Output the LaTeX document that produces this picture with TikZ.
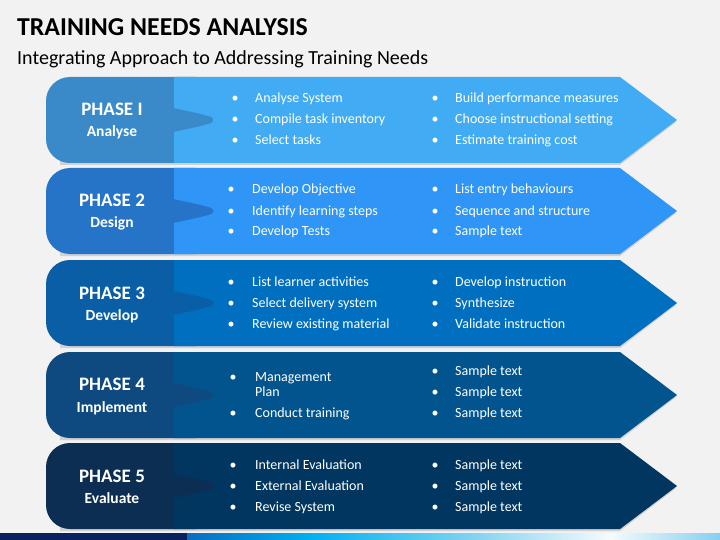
\documentclass[tikz,border=0pt]{standalone}
\usepackage{fontspec}
\setmainfont{Carlito}
\definecolor{bg}{HTML}{F2F2F2}
\definecolor{rA}{HTML}{41ABF3}\definecolor{lA}{HTML}{3A8AC9}
\definecolor{rB}{HTML}{2F95F6}\definecolor{lB}{HTML}{2574C8}
\definecolor{rC}{HTML}{006FBF}\definecolor{lC}{HTML}{0A5EA6}
\definecolor{rD}{HTML}{02548F}\definecolor{lD}{HTML}{0E4A80}
\definecolor{rE}{HTML}{00365F}\definecolor{lE}{HTML}{0B2E52}
\definecolor{barD}{HTML}{0A2160}
\definecolor{g1}{HTML}{0A6CC0}\definecolor{g2}{HTML}{00B0F0}
\definecolor{g3}{HTML}{86D5F2}\definecolor{g4}{HTML}{F5FBFE}\definecolor{g5}{HTML}{86CFEF}
\newcommand{\phaserow}[3]{%
  \begin{scope}[yshift=-#1pt]
    \fill[black!18] (60,2) -- (620,2) -- (676,45) -- (620,88) -- (60,88) -- cycle;
    \fill[#3, rounded corners=24pt] (220,0) -- (46,0) -- (46,86) -- (220,86) -- cycle;
    \fill[#2] (174,0) -- (620,0) -- (677,43) -- (620,86) -- (174,86) -- cycle;
    \fill[#3] (173,31) .. controls (192,35) and (206,38) .. (211,40)
      .. controls (214,41.5) and (214,44.5) .. (211,46)
      .. controls (206,48) and (192,51) .. (173,55) -- cycle;
  \end{scope}}
\tikzset{
  bul/.style={font=\fontsize{14}{14}\selectfont, text=white, anchor=base west, inner sep=0pt},
  dot/.style={font=\fontsize{14}{14}\selectfont, text=white, anchor=base, inner sep=0pt},
  ph/.style={font=\bfseries\fontsize{19}{19}\selectfont, text=white, anchor=base, inner sep=0pt},
  phs/.style={font=\bfseries\fontsize{15.5}{15.5}\selectfont, text=white, anchor=base, inner sep=0pt}
}
\begin{document}
\begin{tikzpicture}[x=1pt,y=-1pt]
\fill[bg] (0,0) rectangle (720,540);
\useasboundingbox (0,0) rectangle (720,540);

\node[anchor=base west, inner sep=0pt, font=\bfseries\fontsize{25.8}{25.8}\selectfont] (title) at (17,36) {TRAINING NEEDS ANALYSIS};
\node[anchor=base west, inner sep=0pt, font=\fontsize{20}{20}\selectfont] (sub) at (17,65) {Integrating Approach to Addressing Training Needs};

\phaserow{77}{rA}{lA}
\phaserow{168}{rB}{lB}
\phaserow{260}{rC}{lC}
\phaserow{352}{rD}{lD}
\phaserow{443}{rE}{lE}

% Row 1
\node[ph] (p1) at (112,116) {PHASE I};
\node[phs] (p1s) at (112,137) {Analyse};
\node[dot] (d11) at (235,103) {•}; \node[bul] (t11) at (255,103) {Analyse System};
\node[dot] (d12) at (235,124) {•}; \node[bul] (t12) at (255,124) {Compile task inventory};
\node[dot] (d13) at (235,145) {•}; \node[bul] (t13) at (255,145) {Select tasks};
\node[dot] (d14) at (435,103) {•}; \node[bul] (t14) at (455,103) {Build performance measures};
\node[dot] (d15) at (435,124) {•}; \node[bul] (t15) at (455,124) {Choose instructional setting};
\node[dot] (d16) at (435,145) {•}; \node[bul] (t16) at (455,145) {Estimate training cost};

% Row 2
\node[ph] (p2) at (112,207) {PHASE 2};
\node[phs] (p2s) at (112,228) {Design};
\node[dot] (d21) at (231,194) {•}; \node[bul] (t21) at (252,194) {Develop Objective};
\node[dot] (d22) at (231,215) {•}; \node[bul] (t22) at (252,215) {Identify learning steps};
\node[dot] (d23) at (231,236) {•}; \node[bul] (t23) at (252,236) {Develop Tests};
\node[dot] (d24) at (435,194) {•}; \node[bul] (t24) at (455,194) {List entry behaviours};
\node[dot] (d25) at (435,215) {•}; \node[bul] (t25) at (455,215) {Sequence and structure};
\node[dot] (d26) at (435,236) {•}; \node[bul] (t26) at (455,236) {Sample text};

% Row 3
\node[ph] (p3) at (112,299) {PHASE 3};
\node[phs] (p3s) at (112,320) {Develop};
\node[dot] (d31) at (231,286) {•}; \node[bul] (t31) at (252,286) {List learner activities};
\node[dot] (d32) at (231,307) {•}; \node[bul] (t32) at (252,307) {Select delivery system};
\node[dot] (d33) at (231,328) {•}; \node[bul] (t33) at (252,328) {Review existing material};
\node[dot] (d34) at (435,286) {•}; \node[bul] (t34) at (455,286) {Develop instruction};
\node[dot] (d35) at (435,307) {•}; \node[bul] (t35) at (455,307) {Synthesize};
\node[dot] (d36) at (435,328) {•}; \node[bul] (t36) at (455,328) {Validate instruction};

% Row 4
\node[ph] (p4) at (112,390) {PHASE 4};
\node[phs] (p4s) at (112,412) {Implement};
\node[dot] (d41) at (233,381) {•}; \node[bul] (t41) at (255,381) {Management};
\node[bul] (t41b) at (255,396) {Plan};
\node[dot] (d42) at (233,417) {•}; \node[bul] (t42) at (255,417) {Conduct training};
\node[dot] (d44) at (435,375) {•}; \node[bul] (t44) at (455,375) {Sample text};
\node[dot] (d45) at (435,396) {•}; \node[bul] (t45) at (455,396) {Sample text};
\node[dot] (d46) at (435,417) {•}; \node[bul] (t46) at (455,417) {Sample text};

% Row 5
\node[ph] (p5) at (112,482) {PHASE 5};
\node[phs] (p5s) at (112,503) {Evaluate};
\node[dot] (d51) at (233,469) {•}; \node[bul] (t51) at (255,469) {Internal Evaluation};
\node[dot] (d52) at (233,490) {•}; \node[bul] (t52) at (255,490) {External Evaluation};
\node[dot] (d53) at (233,511) {•}; \node[bul] (t53) at (255,511) {Revise System};
\node[dot] (d54) at (435,469) {•}; \node[bul] (t54) at (455,469) {Sample text};
\node[dot] (d55) at (435,490) {•}; \node[bul] (t55) at (455,490) {Sample text};
\node[dot] (d56) at (435,511) {•}; \node[bul] (t56) at (455,511) {Sample text};

% bottom bar
\fill[barD] (0,533) rectangle (187,540);
\shade[left color=g1, right color=g2] (187,533) rectangle (310,540);
\shade[left color=g2, right color=g3] (309.5,533) rectangle (480,540);
\shade[left color=g3, right color=g4] (479.5,533) rectangle (610,540);
\shade[left color=g4, right color=g5] (609.5,533) rectangle (720,540);
\end{tikzpicture}
\end{document}
